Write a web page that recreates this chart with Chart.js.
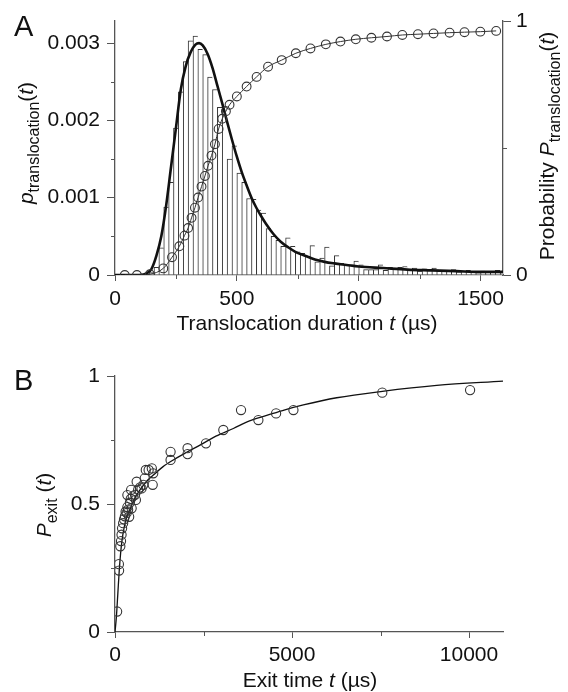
<!DOCTYPE html>
<html>
<head>
<meta charset="utf-8">
<script src="https://cdn.jsdelivr.net/npm/chart.js@4.4.1/dist/chart.umd.min.js"></script>
<style>
  body { margin: 0; background: #fff; }
  canvas { position: absolute; left: 0; }
  #chartA { top: 0; }
  #chartB { top: 346px; }
</style>
</head>
<body>
<canvas id="chartA" width="568" height="346"></canvas>
<canvas id="chartB" width="568" height="346"></canvas>
<script>
// ---- panel A: histogram of translocation durations (bin centres, us) ----
const histT = [10, 30, 50, 70, 90, 110, 130, 150, 170, 190,
  210, 230, 250, 270, 290, 310, 330, 350, 370, 390,
  410, 430, 450, 470, 490, 510, 530, 550, 570, 590,
  610, 630, 650, 670, 690, 710, 730, 750, 770, 790,
  810, 830, 850, 870, 890, 910, 930, 950, 970, 990,
  1010, 1030, 1050, 1070, 1090, 1110, 1130, 1150, 1170, 1190,
  1210, 1230, 1250, 1270, 1290, 1310, 1330, 1350, 1370, 1390,
  1410, 1430, 1450, 1470, 1490, 1510, 1530, 1550, 1570, 1590];
const histP = [0, 0, 0, 0, 0, 0, 0, 0.00003, 0.0001, 0.00035,
  0.00088, 0.0012, 0.0019, 0.00237, 0.00276, 0.00303, 0.00309, 0.00292, 0.00285, 0.00256,
  0.0024, 0.00217, 0.00218, 0.0015, 0.00167, 0.00132, 0.0012, 0.00099, 0.00098, 0.00084,
  0.0008, 0.0006, 0.0005, 0.00045, 0.00037, 0.00048, 0.00037, 0.0003, 0.00028, 0.00024,
  0.00038, 0.00017, 0.00022, 0.00036, 0.00012, 0.00025, 0.00015, 0.00013, 0.00013, 0.00018,
  0.00013, 0.00007, 0.00007, 0.00007, 0.00013, 0.00006, 0.0001, 0.00008, 0.0001, 0.00011,
  0.00007, 0.00009, 0.00005, 0.00008, 0.00006, 0.00009, 0.00005, 0.00006, 0.00005, 0.00007,
  0.00004, 0.00005, 0.00006, 0.00004, 0.00003, 0.00005, 0.00004, 0.00004, 0.00006, 0.00003];

// fitted density (thick line)
const pdfT = [0, 100, 130, 150, 170, 190, 210, 230, 250, 270, 290, 310, 330, 345, 360, 380,
  400, 420, 440, 460, 480, 500, 520, 540, 560, 580, 600, 620, 650, 680, 710, 740,
  780, 820, 860, 900, 950, 1000, 1100, 1200, 1300, 1400, 1500, 1592];
const pdfP = [0, 0, 0.00002, 0.00008, 0.00025, 0.0005, 0.0009, 0.0014, 0.0019, 0.0024, 0.0027, 0.00288, 0.00298, 0.003, 0.00297, 0.00286,
  0.00268, 0.00245, 0.00222, 0.00198, 0.00175, 0.00153, 0.00133, 0.00116, 0.001, 0.00087, 0.00076, 0.00066, 0.00053, 0.00043, 0.00036, 0.0003,
  0.00025, 0.0002, 0.00017, 0.00015, 0.00013, 0.00011, 0.00009, 0.00007, 0.00006, 0.00005, 0.00004, 0.00004];

// cumulative probability (circles, right axis)
const cdfT = [40, 90, 143, 198, 234, 264, 285, 300, 314, 328, 341, 355, 369, 382, 396, 410, 425, 440, 455, 470,
  500, 540, 581, 628, 684, 742, 802, 865, 925, 988, 1052, 1116, 1179, 1243, 1307, 1373, 1434, 1499, 1564];
const cdfP = [0, 0, 0.003, 0.026, 0.07, 0.113, 0.155, 0.185, 0.225, 0.265, 0.305, 0.348, 0.39, 0.43, 0.47, 0.515, 0.575, 0.615, 0.645, 0.67,
  0.703, 0.742, 0.78, 0.82, 0.846, 0.873, 0.892, 0.908, 0.919, 0.928, 0.934, 0.939, 0.945, 0.948, 0.951, 0.954, 0.956, 0.958, 0.961];

const ticksAx = [0, 500, 1000, 1500];
const ticksAy = [0, 0.001, 0.002, 0.003];
const minorAx = [250, 750, 1250];
const minorAy = [0.0005, 0.0015, 0.0025];
const minorAy2 = [0.5];

// ---- panel B: exit time ----
const exitT = [60, 110, 115, 150, 170, 185, 200, 230, 255, 280,
  300, 330, 350, 370, 350, 400, 420, 445, 470, 500,
  455, 565, 590, 612, 655, 710, 750, 800, 840, 870,
  950, 1040, 1065, 1080, 1570, 1570, 2050, 2050, 2570, 3060,
  3560, 4050, 4550, 5040, 7550, 10030];
const exitP = [0.08, 0.265, 0.24, 0.335, 0.355, 0.38, 0.405, 0.425, 0.44, 0.452,
  0.47, 0.465, 0.488, 0.478, 0.535, 0.45, 0.505, 0.52, 0.483, 0.53,
  0.555, 0.536, 0.516, 0.587, 0.556, 0.565, 0.561, 0.575, 0.6, 0.633,
  0.633, 0.639, 0.575, 0.62, 0.704, 0.672, 0.718, 0.695, 0.737, 0.789,
  0.867, 0.828, 0.854, 0.867, 0.935, 0.945];
const fitT = [0, 40, 80, 120, 160, 200, 260, 330, 424, 550, 706, 900, 1083, 1350, 1648, 2000,
  2401, 2850, 3343, 3800, 4285, 4800, 5320, 6262, 7551, 9088, 10960];
const fitP = [0, 0.06, 0.15, 0.24, 0.31, 0.36, 0.41, 0.45, 0.48, 0.52, 0.555, 0.59, 0.613, 0.645, 0.672, 0.7,
  0.73, 0.765, 0.795, 0.825, 0.846, 0.868, 0.887, 0.915, 0.94, 0.963, 0.98];

const ticksBx = [0, 5000, 10000];
const ticksBy = [0, 0.5, 1];
const minorBx = [2500, 7500];
const minorBy = [0.25, 0.75];

const FONT = "'Liberation Sans', Arial, Helvetica, sans-serif";
const INK = '#111';
const AXIS = '#555';

function pts(xs, ys) {
  return xs.map((x, i) => ({ x: x, y: ys[i] }));
}

// short unlabelled ticks
const minorTicks = {
  id: 'minorTicks',
  afterDraw(chart, args, opts) {
    const ctx = chart.ctx;
    ctx.save();
    ctx.strokeStyle = AXIS;
    ctx.lineWidth = 1;
    (opts.list || []).forEach(m => {
      const s = chart.scales[m.scale];
      m.values.forEach(v => {
        const p = Math.round(s.getPixelForValue(v)) + 0.5;
        ctx.beginPath();
        if (s.position === 'bottom') { ctx.moveTo(p, s.top); ctx.lineTo(p, s.top + 4); }
        else if (s.position === 'left') { ctx.moveTo(s.right, p); ctx.lineTo(s.right - 4, p); }
        else { ctx.moveTo(s.left, p); ctx.lineTo(s.left + 4, p); }
        ctx.stroke();
      });
    });
    ctx.restore();
  }
};

// axis titles with italics and subscripts
function fontOf(style) {
  if (style === 's') return '16px ' + FONT;
  if (style === 'i') return 'italic 21px ' + FONT;
  if (style === 'big') return '29px ' + FONT;
  return '21px ' + FONT;
}
const richTitles = {
  id: 'richTitles',
  afterDraw(chart, args, opts) {
    const ctx = chart.ctx;
    (opts.texts || []).forEach(t => {
      ctx.save();
      ctx.translate(t.x, t.y);
      ctx.rotate(t.rot || 0);
      ctx.fillStyle = INK;
      ctx.textBaseline = 'alphabetic';
      let w = 0;
      t.parts.forEach(p => { ctx.font = fontOf(p[1]); w += ctx.measureText(p[0]).width; });
      let cx = t.align === 'left' ? 0 : -w / 2;
      t.parts.forEach(p => {
        ctx.font = fontOf(p[1]);
        ctx.fillText(p[0], cx, p[1] === 's' ? 6 : 0);
        cx += ctx.measureText(p[0]).width;
      });
      ctx.restore();
    });
  }
};

function axisBase(extra) {
  return Object.assign({
    border: { display: true, color: AXIS, width: 1.3 }
  }, extra);
}

// ---- chart A ----
new Chart(document.getElementById('chartA'), {
  type: 'bar',
  data: {
    datasets: [
      {
        type: 'line', order: 1, yAxisID: 'y2',
        data: pts(cdfT, cdfP),
        borderColor: '#333', borderWidth: 1,
        pointRadius: 4.4, pointBorderWidth: 1.1, pointBorderColor: '#333',
        pointBackgroundColor: 'rgba(0,0,0,0)',
        cubicInterpolationMode: 'monotone'
      },
      {
        type: 'line', order: 2, yAxisID: 'y',
        data: pts(pdfT, pdfP),
        borderColor: '#111', borderWidth: 2.6, pointRadius: 0,
        cubicInterpolationMode: 'monotone'
      },
      {
        type: 'bar', order: 3, yAxisID: 'y',
        data: pts(histT, histP),
        backgroundColor: '#fff', borderColor: '#333',
        borderWidth: { top: 1, left: 1, right: 0, bottom: 0 },
        barPercentage: 1, categoryPercentage: 1, grouped: false
      }
    ]
  },
  options: {
    responsive: false, animation: false, devicePixelRatio: 1,
    layout: { padding: { top: 21, left: 0, right: 0, bottom: 0 }, autoPadding: false },
    plugins: {
      legend: { display: false }, tooltip: { enabled: false },
      minorTicks: { list: [
        { scale: 'x', values: minorAx },
        { scale: 'y', values: minorAy },
        { scale: 'y2', values: minorAy2 }
      ] },
      richTitles: { texts: [
        { parts: [['A', 'big']], x: 14, y: 36, align: 'left' },
        { parts: [['p', 'i'], ['translocation', 's'], ['(', ''], ['t', 'i'], [')', '']], x: 33, y: 143, rot: -Math.PI / 2 },
        { parts: [['Probability ', ''], ['P', 'i'], ['translocation', 's'], ['(', ''], ['t', 'i'], [')', '']], x: 554, y: 146, rot: -Math.PI / 2 },
        { parts: [['Translocation duration ', ''], ['t', 'i'], [' (\u00b5s)', '']], x: 307, y: 330 }
      ] }
    },
    scales: {
      x: axisBase({
        type: 'linear', position: 'bottom', min: 0, max: 1592, offset: false,
        afterFit: s => { s.height = 71; },
        afterBuildTicks: s => { s.ticks = ticksAx.map(v => ({ value: v })); },
        grid: { drawOnChartArea: false, offset: false, color: AXIS, tickLength: 6 },
        ticks: { color: INK, font: { family: FONT, size: 21 }, padding: 6, maxRotation: 0, callback: v => String(v) }
      }),
      y: axisBase({
        position: 'left', min: 0, max: 0.003286,
        afterFit: s => { s.width = 115; },
        afterBuildTicks: s => { s.ticks = ticksAy.map(v => ({ value: v })); },
        grid: { drawOnChartArea: false, color: AXIS, tickLength: 8 },
        ticks: { color: INK, font: { family: FONT, size: 21 }, padding: 7, callback: v => v === 0 ? '0' : v.toFixed(3) }
      }),
      y2: axisBase({
        position: 'right', min: 0, max: 1,
        afterFit: s => { s.width = 65; },
        afterBuildTicks: s => { s.ticks = [0, 1].map(v => ({ value: v })); },
        grid: { drawOnChartArea: false, color: AXIS, tickLength: 8 },
        ticks: { color: INK, font: { family: FONT, size: 21 }, padding: 5, callback: v => String(v) }
      })
    }
  },
  plugins: [minorTicks, richTitles]
});

// ---- chart B ----
new Chart(document.getElementById('chartB'), {
  type: 'line',
  data: {
    datasets: [
      {
        order: 1, showLine: false,
        data: pts(exitT, exitP),
        pointRadius: 4.6, pointBorderWidth: 1.1, pointBorderColor: '#333',
        pointBackgroundColor: 'rgba(0,0,0,0)'
      },
      {
        order: 2,
        data: pts(fitT, fitP),
        borderColor: '#111', borderWidth: 1.3, pointRadius: 0,
        cubicInterpolationMode: 'monotone'
      }
    ]
  },
  options: {
    responsive: false, animation: false, devicePixelRatio: 1,
    layout: { padding: { top: 30, left: 0, right: 65, bottom: 0 }, autoPadding: false },
    plugins: {
      legend: { display: false }, tooltip: { enabled: false },
      minorTicks: { list: [
        { scale: 'x', values: minorBx },
        { scale: 'y', values: minorBy }
      ] },
      richTitles: { texts: [
        { parts: [['B', 'big']], x: 14, y: 44, align: 'left' },
        { parts: [['P', 'i'], ['exit', 's'], [' (', ''], ['t', 'i'], [')', '']], x: 51, y: 159, rot: -Math.PI / 2 },
        { parts: [['Exit time ', ''], ['t', 'i'], [' (\u00b5s)', '']], x: 310, y: 341 }
      ] }
    },
    scales: {
      x: axisBase({
        type: 'linear', position: 'bottom', min: 0, max: 10960,
        afterFit: s => { s.height = 60; },
        afterBuildTicks: s => { s.ticks = ticksBx.map(v => ({ value: v })); },
        grid: { drawOnChartArea: false, color: AXIS, tickLength: 6 },
        ticks: { color: INK, font: { family: FONT, size: 21 }, padding: 5, maxRotation: 0, callback: v => String(v) }
      }),
      y: axisBase({
        position: 'left', min: 0, max: 1,
        afterFit: s => { s.width = 115; },
        afterBuildTicks: s => { s.ticks = ticksBy.map(v => ({ value: v })); },
        grid: { drawOnChartArea: false, color: AXIS, tickLength: 8 },
        ticks: { color: INK, font: { family: FONT, size: 21 }, padding: 7, callback: v => String(v) }
      })
    }
  },
  plugins: [minorTicks, richTitles]
});
</script>
</body>
</html>
